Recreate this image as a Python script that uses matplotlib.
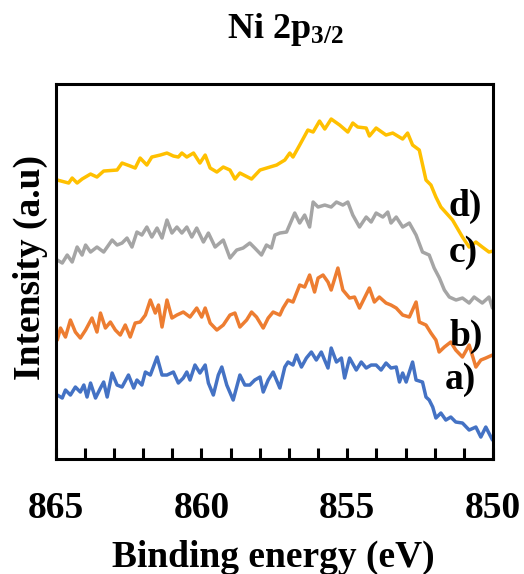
import numpy as np
import matplotlib
matplotlib.use("Agg")
import matplotlib.pyplot as plt

# Ni 2p3/2 spektrumlari (okunan degerler, keyfi birim)
plt.rcParams['font.family'] = ['Liberation Serif', 'DejaVu Serif']
plt.rcParams['font.weight'] = 'bold'
plt.rcParams['mathtext.fontset'] = 'custom'
plt.rcParams['mathtext.rm'] = 'Liberation Serif:bold'
plt.rcParams['mathtext.bf'] = 'Liberation Serif:bold'
plt.rcParams['mathtext.it'] = 'Liberation Serif:bold'

# d) sari
e_d = [864.94, 864.55, 864.43, 864.26, 864.09, 863.80, 863.58, 863.35, 862.89, 862.72,
       862.44, 862.27, 862.10, 861.87, 861.70, 861.41, 861.18, 860.96, 860.79, 860.67,
       860.50, 860.27, 860.05, 859.87, 859.70, 859.47, 859.25, 859.02, 858.85, 858.68,
       858.28, 857.99, 857.65, 857.42, 857.31, 857.14, 856.97, 856.86, 856.63, 856.35,
       856.17, 855.95, 855.77, 855.55, 855.26, 854.98, 854.81, 854.64, 854.35, 854.24,
       854.01, 853.67, 853.44, 853.10, 852.93, 852.76, 852.53, 852.30, 852.13, 851.96,
       851.79, 851.39, 851.05, 850.82, 850.59, 850.37, 850.14, 850.00]
i_d = [2.79, 2.76, 2.81, 2.76, 2.80, 2.85, 2.82, 2.88, 2.89, 2.96,
       2.93, 2.91, 3.01, 2.94, 3.02, 3.04, 3.06, 3.03, 3.02, 3.06,
       3.02, 3.06, 2.96, 3.04, 2.91, 2.87, 2.92, 2.89, 2.80, 2.86,
       2.80, 2.89, 2.92, 2.94, 2.96, 2.99, 3.06, 3.02, 3.14, 3.29,
       3.27, 3.38, 3.30, 3.40, 3.34, 3.27, 3.36, 3.32, 3.31, 3.23,
       3.31, 3.24, 3.26, 3.20, 3.26, 3.14, 3.09, 2.79, 2.74, 2.62,
       2.52, 2.39, 2.22, 2.12, 2.17, 2.12, 2.07, 2.08]

# c) gri
e_c = [864.94, 864.77, 864.60, 864.43, 864.26, 864.09, 863.97, 863.80, 863.58, 863.35,
       863.06, 862.89, 862.72, 862.55, 862.38, 862.21, 862.04, 861.87, 861.70, 861.52,
       861.35, 861.18, 861.01, 860.84, 860.67, 860.50, 860.33, 860.16, 859.93, 859.76,
       859.53, 859.25, 859.02, 858.79, 858.57, 858.34, 858.17, 857.94, 857.77, 857.60,
       857.48, 857.31, 857.08, 856.80, 856.63, 856.46, 856.29, 856.17, 856.00, 855.77,
       855.55, 855.37, 855.15, 854.98, 854.81, 854.58, 854.35, 854.18, 854.01, 853.78,
       853.61, 853.50, 853.32, 853.10, 852.87, 852.64, 852.42, 852.19, 852.02, 851.84,
       851.67, 851.50, 851.27, 851.05, 850.82, 850.65, 850.37, 850.14, 850.02]
i_c = [1.99, 1.96, 2.04, 1.97, 2.12, 2.04, 2.14, 2.07, 2.12, 2.07,
       2.19, 2.14, 2.16, 2.21, 2.12, 2.27, 2.24, 2.32, 2.22, 2.31,
       2.21, 2.39, 2.26, 2.32, 2.26, 2.32, 2.22, 2.31, 2.17, 2.26,
       2.12, 2.19, 2.01, 2.09, 2.11, 2.16, 2.11, 2.04, 2.14, 2.11,
       2.24, 2.26, 2.27, 2.46, 2.36, 2.44, 2.32, 2.57, 2.52, 2.54,
       2.52, 2.57, 2.54, 2.57, 2.44, 2.32, 2.42, 2.37, 2.46, 2.42,
       2.47, 2.36, 2.42, 2.32, 2.36, 2.24, 2.07, 2.04, 1.91, 1.81,
       1.69, 1.62, 1.59, 1.61, 1.56, 1.62, 1.56, 1.62, 1.51]

# b) turuncu
e_b = [864.94, 864.83, 864.66, 864.49, 864.32, 864.15, 863.97, 863.75, 863.58, 863.46,
       863.29, 863.12, 862.95, 862.78, 862.61, 862.44, 862.27, 862.10, 861.92, 861.75,
       861.58, 861.47, 861.35, 861.18, 861.01, 860.84, 860.62, 860.39, 860.16, 859.99,
       859.87, 859.70, 859.47, 859.25, 859.02, 858.85, 858.68, 858.45, 858.28, 858.11,
       857.88, 857.71, 857.54, 857.31, 857.20, 857.03, 856.86, 856.63, 856.46, 856.29,
       856.12, 856.00, 855.83, 855.66, 855.55, 855.32, 855.15, 854.92, 854.75, 854.58,
       854.41, 854.24, 854.07, 853.90, 853.67, 853.50, 853.32, 853.10, 852.87, 852.64,
       852.53, 852.30, 852.13, 851.96, 851.85, 851.67, 851.45, 851.28, 851.05, 850.82,
       850.59, 850.42, 850.25, 850.02]
i_b = [1.19, 1.31, 1.22, 1.39, 1.27, 1.21, 1.29, 1.41, 1.27, 1.46,
       1.31, 1.37, 1.29, 1.24, 1.34, 1.22, 1.36, 1.37, 1.44, 1.59,
       1.46, 1.54, 1.32, 1.59, 1.41, 1.44, 1.47, 1.42, 1.51, 1.42,
       1.51, 1.36, 1.29, 1.34, 1.44, 1.46, 1.32, 1.39, 1.47, 1.42,
       1.31, 1.41, 1.47, 1.44, 1.51, 1.59, 1.57, 1.74, 1.72, 1.84,
       1.67, 1.81, 1.84, 1.77, 1.69, 1.91, 1.69, 1.61, 1.62, 1.51,
       1.61, 1.71, 1.57, 1.62, 1.56, 1.54, 1.51, 1.44, 1.42, 1.57,
       1.37, 1.34, 1.26, 1.19, 1.07, 1.12, 1.17, 1.09, 1.02, 1.14,
       0.92, 0.99, 1.01, 1.04]

# a) mavi
e_a = [864.94, 864.77, 864.66, 864.49, 864.32, 864.15, 864.03, 863.92, 863.80, 863.63,
       863.46, 863.35, 863.23, 863.06, 862.89, 862.72, 862.50, 862.32, 862.21, 862.04,
       861.92, 861.75, 861.52, 861.35, 861.18, 860.96, 860.79, 860.62, 860.50, 860.39,
       860.22, 860.05, 859.87, 859.76, 859.59, 859.42, 859.30, 859.13, 858.91, 858.68,
       858.51, 858.34, 858.17, 857.99, 857.88, 857.71, 857.54, 857.31, 857.14, 857.03,
       856.86, 856.74, 856.57, 856.40, 856.23, 856.06, 855.89, 855.66, 855.55, 855.37,
       855.20, 855.09, 854.92, 854.69, 854.52, 854.35, 854.18, 854.01, 853.84, 853.67,
       853.50, 853.32, 853.21, 853.10, 852.98, 852.76, 852.64, 852.42, 852.30, 852.19,
       852.07, 851.96, 851.79, 851.62, 851.45, 851.28, 851.05, 850.82, 850.59, 850.42,
       850.25, 850.02]
i_a = [0.64, 0.61, 0.69, 0.64, 0.72, 0.67, 0.74, 0.62, 0.76, 0.61,
       0.71, 0.77, 0.62, 0.86, 0.74, 0.72, 0.84, 0.71, 0.79, 0.74,
       0.87, 0.84, 1.02, 0.84, 0.84, 0.87, 0.76, 0.81, 0.87, 0.79,
       0.94, 0.86, 0.94, 0.76, 0.64, 0.84, 0.92, 0.74, 0.59, 0.84,
       0.74, 0.74, 0.79, 0.82, 0.67, 0.79, 0.87, 0.71, 0.92, 0.97,
       0.94, 1.04, 0.92, 1.01, 1.07, 0.99, 1.07, 0.91, 1.11, 0.97,
       1.01, 0.81, 1.01, 0.89, 0.97, 0.91, 0.94, 0.94, 0.89, 0.96,
       0.91, 0.92, 0.77, 0.86, 0.77, 0.97, 0.79, 0.77, 0.62, 0.59,
       0.52, 0.41, 0.46, 0.39, 0.42, 0.37, 0.36, 0.29, 0.32, 0.22,
       0.32, 0.19]

series = [(e_a, i_a, '#4472C4'), (e_b, i_b, '#ED7D31'),
          (e_c, i_c, '#A5A5A5'), (e_d, i_d, '#FFC000')]
labels = ['a)', 'b)', 'c)', 'd)']
label_e = [851.13, 850.92, 851.03, 850.96]
label_i = [0.80, 1.23, 2.07, 2.53]

fig = plt.figure(figsize=(5.24, 5.74), dpi=100)
ax = fig.add_axes([0.106, 0.2003, 0.835, 0.6533])

for e, i, c in series:
    ax.plot(e, i, color=c, linewidth=2.5, solid_joinstyle='round', solid_capstyle='round')

for lab, x, y in zip(labels, label_e, label_i):
    ax.text(x, y, lab, fontsize=27, fontweight='bold', ha='center', va='center')

ax.set_xlim(865, 850)
ax.set_ylim(0, 3.75)
ax.set_xticks([865, 860, 855, 850])
ax.set_xticks(np.arange(850, 866, 1), minor=True)
ax.set_yticks([])
ax.tick_params(axis='x', which='both', direction='in', length=8, width=2.2,
               top=False, labelsize=27, pad=23)
for s in ax.spines.values():
    s.set_linewidth(2.2)

fig.text(285 / 524, 1 - 38 / 574, r'Ni 2p$_{3/2}$', fontsize=26, fontweight='bold',
         ha='center', va='baseline')
fig.text(273 / 524, 1 - 557 / 574, 'Binding energy (eV)', fontsize=27,
         fontweight='bold', ha='center', va='center')
fig.text(30 / 524, 1 - 268 / 574, 'Intensity (a.u)', fontsize=27,
         fontweight='bold', ha='center', va='center', rotation=90)

fig.savefig('out.png', dpi=100)
